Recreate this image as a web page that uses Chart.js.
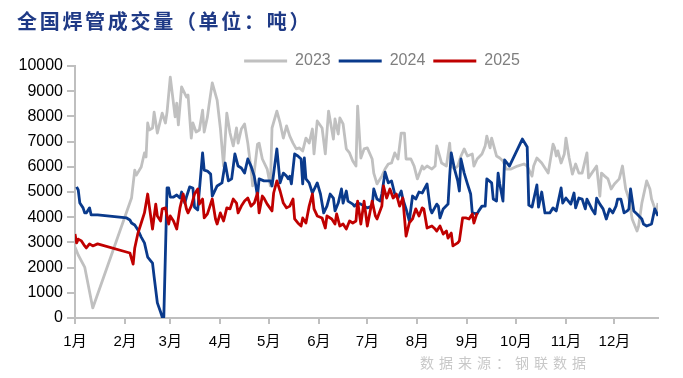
<!DOCTYPE html>
<html>
<head>
<meta charset="utf-8">
<script src="https://cdn.jsdelivr.net/npm/chart.js@4.4.1/dist/chart.umd.min.js"></script>
<style>
  html, body { margin: 0; padding: 0; background: #fff; }
  #wrap { position: relative; width: 683px; height: 378px; }
  #title { position: absolute; left: 17px; top: 11px; font: bold 20px/20px "Noto Sans CJK SC"; color: #1f3a86; letter-spacing: 2.7px; white-space: nowrap; }
  #source { position: absolute; left: 420px; top: 355px; font: 14px/14px "Noto Sans CJK SC"; color: #c8c8c8; letter-spacing: 5px; white-space: nowrap; }
  canvas { position: absolute; left: 0; top: 0; }
</style>
</head>
<body>
<div id="wrap">
  <canvas id="volumeChart" width="683" height="378"></canvas>
  <div id="title">全国焊管成交量（单位：吨）</div>
  <div id="source">数据来源：钢联数据</div>
</div>
<script>
// x = day of year (0 = 1月1日), y = tonnes
const MONTH_START = [0, 31, 59, 90, 120, 151, 181, 212, 243, 273, 304, 334];
const MONTH_LABELS = ["1月", "2月", "3月", "4月", "5月", "6月", "7月", "8月", "9月", "10月", "11月", "12月"];
const SERIES_NAMES = ["2023", "2024", "2025"];

const days2023 = [0,2,6,11,35,37,38,41,43,44,45,46,48,49,51,54,56,57,59,62,63,64,66,69,70,72,73,75,77,79,80,82,83,85,88,90,92,94,96,98,100,101,103,105,107,109,110,113,114,116,119,121,122,125,127,129,131,133,135,137,139,141,143,145,147,148,150,153,155,157,160,161,163,164,166,168,170,172,174,175,177,179,181,184,185,187,190,192,194,196,198,200,202,204,205,208,210,212,215,216,218,221,223,224,227,230,232,233,235,237,239,241,243,246,247,249,252,254,255,257,258,261,263,265,267,270,274,278,280,283,284,286,289,293,296,297,298,299,301,303,304,306,308,310,312,314,317,318,320,323,325,326,328,330,332,334,337,339,341,343,345,348,349,351,354,356,357,360,361];
const vals2023 = [2820,2500,2020,400,4760,5870,5670,5990,6550,6390,7740,7460,7540,8170,7340,8130,7740,8170,9560,7980,8530,7660,9170,8770,8850,7140,7740,7380,7460,8250,7380,7980,8450,9330,8650,7540,6030,8130,7340,6830,7540,6940,7500,7700,6940,5910,5240,6900,6940,6310,5910,5240,7540,8210,7740,7140,7620,7220,6940,6710,6750,6630,7140,6940,7500,6510,7820,7540,6510,8210,7100,7900,7300,7940,7700,6710,6550,6230,6030,8410,6350,6710,6750,6310,5750,5320,5630,5910,6110,6150,6550,6310,7340,7340,6310,6310,6030,5520,6030,5910,6030,5910,6030,6830,6150,6030,6940,6030,5910,6030,6430,6710,6430,6510,6030,6310,6510,6830,7220,6750,7140,6430,6350,6230,5910,5910,6030,6110,6030,5630,6030,6350,6150,5750,6900,6750,6430,6630,6150,6510,7140,6350,5710,6110,5750,5750,6550,5560,5750,6030,4840,5750,5630,5520,5120,5320,5520,6030,5120,4720,3930,3450,3650,4560,5440,5120,4720,4170,4560];

const days2024 = [1,2,3,5,6,7,9,10,14,32,34,35,37,39,41,43,45,48,49,51,53,54,55,57,58,59,61,63,65,66,68,69,71,73,74,76,79,80,82,84,85,88,91,93,95,97,99,101,103,105,107,109,111,113,114,117,121,122,125,127,129,131,132,133,134,136,138,140,141,142,143,145,147,150,152,154,156,158,160,161,163,165,166,168,169,172,173,175,177,179,181,184,185,187,189,190,192,194,196,198,200,202,203,205,207,209,211,213,215,218,220,221,224,225,226,228,231,232,233,235,237,238,239,241,243,245,246,249,250,252,254,255,258,259,261,262,263,265,266,269,277,280,281,283,286,287,289,291,294,296,298,301,302,304,307,309,310,312,314,316,317,320,322,323,325,327,329,331,333,335,336,338,340,342,343,344,346,348,351,352,354,357,359,361];
const vals2024 = [5200,5080,4560,4370,4170,4170,4370,4090,4090,3970,3890,3770,3690,3490,3210,2980,2420,2180,1630,600,240,40,40,5160,5160,4800,4800,4880,4760,5000,4560,4800,5200,5160,4400,4290,6550,5870,5830,5710,4840,5240,5360,6150,5440,5520,6510,6030,5950,5750,6310,6030,5630,4840,5520,5440,5440,5240,6710,5360,5750,5630,5520,5630,5320,6510,6430,6310,5320,6350,5520,5360,4960,5360,4920,4170,4440,4920,4760,4250,4560,5120,4560,5040,4640,4520,4440,4560,4520,4440,4370,4440,5120,4720,4640,4920,5790,5360,5440,4920,4760,5040,4720,4330,3850,4840,4720,5000,4960,5320,4330,4170,4520,4440,3970,4330,4520,5630,6550,5910,5440,5040,6310,5750,5320,4920,4170,4130,4250,4440,4440,5520,5360,4720,4640,5750,5320,4640,6270,6030,7100,6790,4480,4400,5280,4400,5000,4170,4170,4370,4250,5160,4560,4760,4520,4960,4370,4760,4720,4330,4720,4330,4130,4760,4520,4330,3930,4330,4170,4440,4720,4720,4170,4250,4330,5120,4250,4130,3930,3730,3650,3730,4330,4050];

const days2025 = [0,1,2,4,6,7,9,11,14,34,36,37,39,41,43,45,46,48,50,51,53,54,56,58,59,61,63,65,67,69,70,72,74,76,77,79,80,82,85,87,88,90,92,94,96,98,100,101,103,105,107,109,111,113,114,116,117,119,122,123,125,127,129,131,133,135,136,138,140,141,143,145,147,148,150,153,155,156,159,161,162,164,166,168,170,172,174,175,177,179,181,184,186,187,190,191,193,195,197,199,201,203,205,207,209,211,213,215,216,218,221,223,224,226,228,230,231,233,234,237,238,240,242,244,246,247,249];
const vals2025 = [3330,2980,3130,3060,2860,2780,2940,2860,2940,2580,2140,2780,3370,3770,4170,4920,4440,3530,4520,4050,3850,4330,4370,3730,4050,3850,3530,4370,4920,4330,4170,4440,4920,5120,4520,4720,3970,4130,4720,3930,3730,4170,3850,4370,4330,4720,4560,4170,4440,4640,4760,4440,4560,4960,4170,4840,4760,4520,4250,4960,5440,5040,4560,4370,4440,4720,3930,3770,3650,3970,3770,4440,4920,4330,4050,3970,3570,4050,3930,3730,4130,3650,3730,3530,3850,3770,3850,4640,3730,4640,3650,4640,4050,3930,4440,5240,4760,5120,4760,4920,4440,4760,3250,3770,3930,4330,4050,4370,4330,3570,3650,3530,3450,3650,3330,3450,3170,3370,2860,2980,3060,3970,3970,3930,4130,3770,4170];

const FONT = "'Liberation Sans', 'Noto Sans CJK SC', sans-serif";
const AXIS_GRAY = "#bfbfbf";
const LEGEND_H = 21;
const LEGEND_SHIFT = 53;

function toPoints(days, vals) {
  return days.map((d, i) => ({ x: d, y: vals[i] }));
}

function lineSet(label, days, vals, color, order) {
  return {
    label,
    data: toPoints(days, vals),
    borderColor: color,
    backgroundColor: color,
    borderWidth: 2.8,
    borderJoinStyle: "round",
    pointRadius: 0,
    tension: 0,
    fill: false,
    order
  };
}

// fixed legend height + move legend to the right like the original
const legendTweak = {
  id: "legendTweak",
  beforeUpdate(chart) {
    const lg = chart.legend;
    if (lg && !lg._patched) {
      const fit = lg.fit;
      lg.fit = function () { fit.call(this); this.height = LEGEND_H; };
      lg._patched = true;
    }
  },
  afterLayout(chart) {
    chart.legend.left += LEGEND_SHIFT;
    chart.legend.right += LEGEND_SHIFT;
  }
};

Chart.defaults.font.family = FONT;

new Chart(document.getElementById("volumeChart"), {
  type: "line",
  data: {
    datasets: [
      lineSet(SERIES_NAMES[0], days2023, vals2023, "#c0c0c0", 3),
      lineSet(SERIES_NAMES[1], days2024, vals2024, "#0a3a8c", 2),
      lineSet(SERIES_NAMES[2], days2025, vals2025, "#c00000", 1)
    ]
  },
  options: {
    responsive: false,
    animation: false,
    layout: { padding: { top: 45, left: 0, right: 25, bottom: 0 } },
    plugins: {
      tooltip: { enabled: false },
      legend: {
        position: "top",
        labels: {
          boxWidth: 43,
          boxHeight: 3,
          padding: 8,
          color: "#7f7f7f",
          font: { size: 16, family: FONT },
          generateLabels(chart) {
            const items = Chart.defaults.plugins.legend.labels.generateLabels(chart);
            items.forEach(it => { it.fillStyle = it.strokeStyle; it.lineWidth = 0; });
            return items.sort((a, b) => a.datasetIndex - b.datasetIndex);
          }
        }
      }
    },
    scales: {
      x: {
        type: "linear",
        min: 0,
        max: 361,
        afterBuildTicks: scale => { scale.ticks = MONTH_START.map(v => ({ value: v })); },
        afterFit: scale => { scale.height = 60; },
        ticks: {
          autoSkip: false,
          maxRotation: 0,
          padding: 9,
          color: "#000",
          font: { size: 15 },
          callback: (v, i) => MONTH_LABELS[i]
        },
        grid: { drawOnChartArea: false, tickLength: 6, color: AXIS_GRAY, lineWidth: 2 },
        border: { color: AXIS_GRAY, width: 2 }
      },
      y: {
        min: 0,
        max: 10000,
        afterFit: scale => { scale.width = 75; },
        ticks: { stepSize: 1000, padding: 4, color: "#000", font: { size: 16 }, callback: v => String(v) },
        grid: { drawOnChartArea: false, tickLength: 8, color: AXIS_GRAY, lineWidth: 2 },
        border: { color: AXIS_GRAY, width: 2 }
      }
    }
  },
  plugins: [legendTweak]
});
</script>
</body>
</html>
